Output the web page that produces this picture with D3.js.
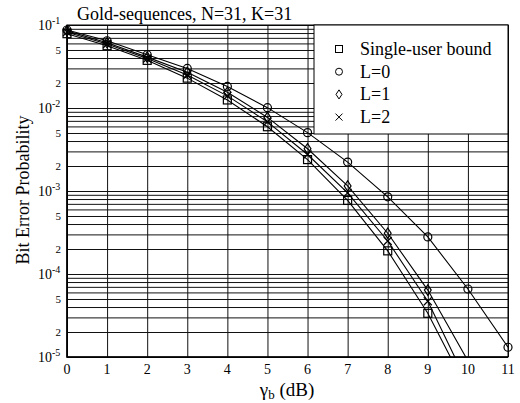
<!DOCTYPE html>
<html lang="en">
  <head>
    <meta charset="UTF-8" />
    <title>Gold sequences BER</title>
    <style>
      body {
        margin: 0;
        overflow: hidden;
        background: #fff;
      }
      text {
        font-family: "Liberation Serif", "Times New Roman", serif;
        fill: #000;
      }
      .grid line {
        stroke: #111;
        stroke-width: 1px;
      }
      .grid .domain {
        display: none;
      }
    </style>
    <script src="https://unpkg.com/d3@7.8.1/dist/d3.min.js"></script>
  </head>
  <body>
    <script>
      const { select, scaleLinear, scaleLog, axisLeft, axisBottom, line } = d3;

//Data
      const snrDb = [0, 1, 2, 3, 4, 5, 6, 7, 8, 9, 10, 11];
      const singleUser = [0.0786, 0.0563, 0.0375, 0.0229, 0.0125, 0.00595, 0.00239, 0.00077, 0.00019, 0.0000336, 0.0000039];
      const l0 = [0.087, 0.0646, 0.0438, 0.030, 0.0182, 0.0101, 0.00505, 0.00223, 0.00085, 0.00028, 0.000066, 0.0000131];
      const l1 = [0.085, 0.061, 0.041, 0.027, 0.0155, 0.0077, 0.00323, 0.00115, 0.00031, 0.000064, 0.000009];
      const l2 = [0.082, 0.059, 0.0395, 0.025, 0.014, 0.0068, 0.00275, 0.00095, 0.00025, 0.000047, 0.0000047];

      const xTicks = [0, 1, 2, 3, 4, 5, 6, 7, 8, 9, 10, 11];
      const decades = [1e-1, 1e-2, 1e-3, 1e-4, 1e-5];
      const minorLabels = [2, 5];
      const legendNames = ["Single-user bound", "L=0", "L=1", "L=2"];
      const legendSymbols = ["square", "circle", "diamond", "cross"];

      const series = [
        { values: singleUser, symbol: "square" },
        { values: l0, symbol: "circle" },
        { values: l1, symbol: "diamond" },
        { values: l2, symbol: "cross" },
      ];

      const width = 520;
      const height = 403;
      const plot = { left: 67, right: 508, top: 25, bottom: 357 };

      const svg = select("body")
        .append("svg")
        .attr("width", width)
        .attr("height", height);

      const x = scaleLinear().domain([0, 11]).range([plot.left, plot.right]);
      const y = scaleLog().domain([1e-5, 1e-1]).range([plot.bottom, plot.top]);

      // every 1..9 line inside each decade
      const yGrid = [];
      decades.slice(1).forEach(d => {
        for (let m = 1; m <= 9; m++) yGrid.push(d * m);
      });
      yGrid.push(1e-1);

      svg.append("g")
        .attr("class", "grid")
        .attr("transform", `translate(${plot.left},0)`)
        .call(axisLeft(y).tickValues(yGrid).tickFormat("")
          .tickSize(-(plot.right - plot.left)));

      svg.append("g")
        .attr("class", "grid")
        .attr("transform", `translate(0,${plot.bottom})`)
        .call(axisBottom(x).tickValues(xTicks).tickFormat("")
          .tickSize(-(plot.bottom - plot.top)));

      // frame, left and bottom a bit heavier
      svg.append("rect")
        .attr("x", plot.left).attr("y", plot.top)
        .attr("width", plot.right - plot.left)
        .attr("height", plot.bottom - plot.top)
        .attr("fill", "none").attr("stroke", "#000").attr("stroke-width", 1);
      svg.append("path")
        .attr("d", `M${plot.left},${plot.top}V${plot.bottom}H${plot.right}`)
        .attr("fill", "none").attr("stroke", "#000").attr("stroke-width", 1.6);

      // tick labels
      svg.selectAll(".xlab")
        .data(xTicks)
        .enter().append("text")
        .attr("x", d => x(d))
        .attr("y", plot.bottom + 17)
        .attr("text-anchor", "middle")
        .style("font-size", "14px")
        .text(d => d);

      decades.forEach(d => {
        const t = svg.append("text")
          .attr("x", 38)
          .attr("y", y(d) + 5)
          .style("font-size", "14px");
        t.append("tspan").text("10");
        t.append("tspan")
          .attr("dy", -6)
          .style("font-size", "10px")
          .text(Math.round(Math.log10(d)));
      });

      decades.slice(1).forEach(d => {
        minorLabels.forEach(m => {
          svg.append("text")
            .attr("x", 61)
            .attr("y", y(d * m) + 4)
            .attr("text-anchor", "end")
            .style("font-size", "11px")
            .text(m);
        });
      });

      // symbols
      const drawSymbol = (g, kind, cx, cy, s) => {
        if (kind === "square") {
          g.append("rect")
            .attr("x", cx - s).attr("y", cy - s)
            .attr("width", 2 * s).attr("height", 2 * s);
        } else if (kind === "circle") {
          g.append("circle").attr("cx", cx).attr("cy", cy).attr("r", s);
        } else if (kind === "diamond") {
          g.append("path")
            .attr("d", `M${cx},${cy - s * 1.3}L${cx + s * 0.85},${cy}L${cx},${cy + s * 1.3}L${cx - s * 0.85},${cy}Z`);
        } else {
          g.append("path")
            .attr("d", `M${cx - s},${cy - s}L${cx + s},${cy + s}M${cx - s},${cy + s}L${cx + s},${cy - s}`);
        }
      };

      svg.append("clipPath").attr("id", "clip")
        .append("rect")
        .attr("x", plot.left).attr("y", plot.top)
        .attr("width", plot.right - plot.left)
        .attr("height", plot.bottom - plot.top);

      const path = line()
        .x((d, i) => x(snrDb[i]))
        .y(d => y(d));

      const curves = svg.append("g").attr("clip-path", "url(#clip)");

      series.forEach(s => {
        curves.append("path")
          .datum(s.values)
          .attr("d", path)
          .attr("fill", "none")
          .attr("stroke", "#000")
          .attr("stroke-width", 1.1);
      });

      series.forEach(s => {
        const g = svg.append("g")
          .attr("fill", "none")
          .attr("stroke", "#000")
          .attr("stroke-width", 1.2);
        s.values.forEach((v, i) => {
          if (v < 1e-5) return;
          drawSymbol(g, s.symbol, x(snrDb[i]), y(v), 4);
        });
      });

      // legend
      svg.append("rect")
        .attr("x", 314).attr("y", plot.top)
        .attr("width", plot.right - 314).attr("height", 109)
        .attr("fill", "#fff").attr("stroke", "#000").attr("stroke-width", 1);

      legendNames.forEach((name, i) => {
        const ly = 49 + i * 22.7;
        const g = svg.append("g")
          .attr("fill", "none").attr("stroke", "#000").attr("stroke-width", 1);
        drawSymbol(g, legendSymbols[i], 339, ly, 3.5);
        svg.append("text")
          .attr("x", 360).attr("y", ly + 6)
          .style("font-size", "18px")
          .text(name);
      });

      // titles
      svg.append("text")
        .attr("x", 77).attr("y", 20)
        .style("font-size", "18px")
        .text("Gold-sequences, N=31, K=31");

      svg.append("text")
        .attr("transform", "translate(29,190) rotate(-90)")
        .attr("text-anchor", "middle")
        .style("font-size", "18px")
        .text("Bit Error Probability");

      const xl = svg.append("text")
        .attr("x", 287).attr("y", 396)
        .attr("text-anchor", "middle")
        .style("font-size", "19px");
      xl.append("tspan").text("γ");
      xl.append("tspan").attr("dy", 3).style("font-size", "13px").text("b");
      xl.append("tspan").attr("dy", -3).text(" (dB)");
    </script>
  </body>
</html>
